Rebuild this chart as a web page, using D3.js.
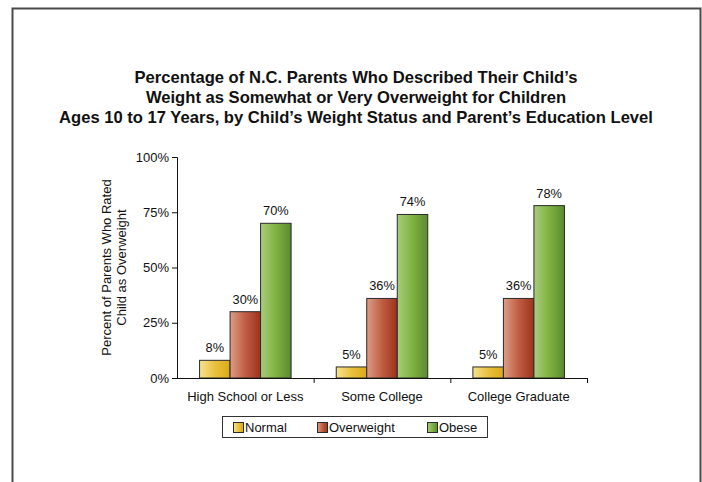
<!DOCTYPE html>
<html>
<head>
<meta charset="utf-8">
<script src="https://cdn.jsdelivr.net/npm/d3@7"></script>
<style>
  html, body { margin: 0; padding: 0; background: #fff; }
  svg { display: block; }
  text { font-family: "Liberation Sans", Arial, sans-serif; fill: #111; }
</style>
</head>
<body>
<svg id="chart" width="702" height="482"></svg>
<script>
// Education levels along the x axis
const categories = ["High School or Less", "Some College", "College Graduate"];
// Child's weight status (one bar per status in each group)
const seriesNames = ["Normal", "Overweight", "Obese"];
// Percent of parents rating child as overweight
const normalValues = [8, 5, 5];
const overweightValues = [30, 36, 36];
const obeseValues = [70, 74, 78];
const yTicks = [0, 25, 50, 75, 100];
const titleLines = [
  "Percentage of N.C. Parents Who Described Their Child\u2019s",
  "Weight as Somewhat or Very Overweight for Children",
  "Ages 10 to 17 Years, by Child\u2019s Weight Status and Parent\u2019s Education Level"
];
const yTitleLines = ["Percent of Parents Who Rated", "Child as Overweight"];

const seriesValues = [normalValues, overweightValues, obeseValues];
const rows = categories.map((c, i) => ({
  category: c,
  bars: seriesNames.map((s, j) => ({ series: s, value: seriesValues[j][i] }))
}));

const svg = d3.select("#chart");

// colour ramps (left-to-right shading of each bar)
const ramps = {
  Normal: ["#f6e291", "#e8c13e", "#dcaa18"],
  Overweight: ["#dd9d85", "#bf5e44", "#9d321c"],
  Obese: ["#a8cc7c", "#7fb241", "#5a8a2f"]
};
const defs = svg.append("defs");
seriesNames.forEach((s, i) => {
  const g = defs.append("linearGradient")
    .attr("id", "grad" + i)
    .attr("x1", "0%").attr("x2", "100%").attr("y1", "0%").attr("y2", "0%");
  ramps[s].forEach((col, k) => {
    g.append("stop").attr("offset", (k * 50) + "%").attr("stop-color", col);
  });
});

// outer frame
svg.append("path")
  .attr("d", "M12.5,482 V8.5 H700.5 V482")
  .attr("fill", "none")
  .attr("stroke", "#4a4a4a")
  .attr("stroke-width", 2);

// title
svg.append("g").selectAll("text")
  .data(titleLines)
  .join("text")
  .attr("x", 356)
  .attr("y", (d, i) => 83 + i * 20)
  .attr("text-anchor", "middle")
  .style("font-weight", "bold")
  .style("font-size", "16.6px")
  .text(d => d);

const plot = { left: 177, right: 587, top: 157, bottom: 378 };

const x0 = d3.scaleBand()
  .domain(categories)
  .range([plot.left, plot.right])
  .paddingInner(0).paddingOuter(0);

const x1 = d3.scaleBand()
  .domain(seriesNames)
  .range([0, x0.bandwidth()])
  .paddingInner(0).paddingOuter(0.74);

const y = d3.scaleLinear().domain([0, 100]).range([plot.bottom, plot.top]);

const color = d3.scaleOrdinal().domain(seriesNames).range(seriesNames.map((s, i) => `url(#grad${i})`));

// bars
const groups = svg.append("g").selectAll("g")
  .data(rows)
  .join("g")
  .attr("transform", d => `translate(${x0(d.category)},0)`);

groups.selectAll("rect")
  .data(d => d.bars)
  .join("rect")
  .attr("x", d => x1(d.series))
  .attr("y", d => y(d.value))
  .attr("width", x1.bandwidth())
  .attr("height", d => y(0) - y(d.value))
  .attr("fill", d => color(d.series))
  .attr("stroke", "#2a2a2a")
  .attr("stroke-width", 1);

groups.selectAll("text.val")
  .data(d => d.bars)
  .join("text")
  .attr("class", "val")
  .attr("x", d => x1(d.series) + x1.bandwidth() / 2)
  .attr("y", d => y(d.value) - 8)
  .attr("text-anchor", "middle")
  .style("font-size", "12.8px")
  .text(d => d.value + "%");

// y axis
const yAxis = svg.append("g")
  .attr("transform", `translate(${plot.left},0)`)
  .call(d3.axisLeft(y).tickValues(yTicks).tickSize(5).tickPadding(3).tickFormat(d => d + "%"));
yAxis.selectAll("text").style("font-size", "13px").style("font-family", "Liberation Sans, Arial, sans-serif").attr("fill", "#111");
yAxis.selectAll("line,path").attr("stroke", "#111");
yAxis.select(".domain").attr("d", `M-5,${plot.top}.5H0.5V${plot.bottom}.5`);

// x axis
const xAxis = svg.append("g")
  .attr("transform", `translate(0,${plot.bottom})`)
  .call(d3.axisBottom(x0).tickSize(0).tickPadding(14));
xAxis.select(".domain").attr("d", `M${plot.left},0.5H${plot.right}`).attr("stroke", "#111");
xAxis.selectAll("text").style("font-size", "13px").style("font-family", "Liberation Sans, Arial, sans-serif").attr("fill", "#111");
// group separators below the baseline
xAxis.append("g").selectAll("line")
  .data(categories.slice(1).map(c => x0(c)).concat([plot.right]))
  .join("line")
  .attr("x1", d => d + 0.5).attr("x2", d => d + 0.5)
  .attr("y1", 0).attr("y2", 5)
  .attr("stroke", "#111");

// y axis title
svg.append("g")
  .attr("transform", `translate(0,${(plot.top + plot.bottom) / 2}) rotate(-90)`)
  .selectAll("text")
  .data(yTitleLines)
  .join("text")
  .attr("x", 0)
  .attr("y", (d, i) => 110.5 + i * 15.5)
  .attr("text-anchor", "middle")
  .style("font-size", "13px")
  .text(d => d);

// legend
const legend = svg.append("g");
legend.append("rect")
  .attr("x", 222.5).attr("y", 416.5)
  .attr("width", 265).attr("height", 21)
  .attr("fill", "#fff").attr("stroke", "#333").attr("stroke-width", 1);
const legendX = [233, 317, 427];
const items = legend.selectAll("g.item")
  .data(seriesNames)
  .join("g")
  .attr("class", "item")
  .attr("transform", (d, i) => `translate(${legendX[i]},0)`);
items.append("rect")
  .attr("x", 0.5).attr("y", 422.5)
  .attr("width", 10).attr("height", 10)
  .attr("fill", d => color(d))
  .attr("stroke", "#2a2a2a");
items.append("text")
  .attr("x", 12).attr("y", 432)
  .style("font-size", "13px")
  .text(d => d);
</script>
</body>
</html>
